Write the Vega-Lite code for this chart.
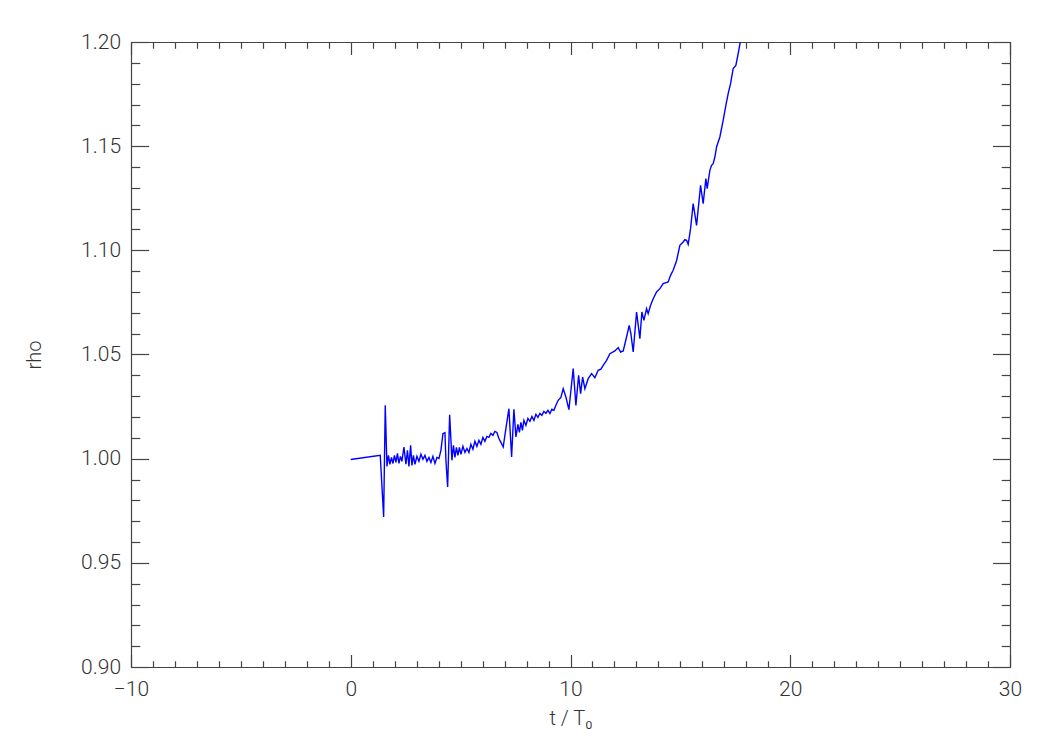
{
  "$schema": "https://vega.github.io/schema/vega-lite/v6.json",
  "width": 879,
  "height": 625,
  "autosize": "none",
  "padding": {"left": 131, "top": 42, "right": 40, "bottom": 83},
  "background": "white",
  "config": {
    "view": {"stroke": null},
    "axis": {
      "grid": false,
      "domainColor": "#444444",
      "domainWidth": 1.2,
      "tickColor": "#444444",
      "tickWidth": 1.2,
      "labelColor": "#333333",
      "titleColor": "#333333",
      "labelFont": "Roboto",
      "titleFont": "Roboto",
      "labelFontSize": 21,
      "titleFontSize": 20,
      "labelFontWeight": 300,
      "titleFontWeight": 300,
      "labelOverlap": false,
      "labelFlush": false
    }
  },
  "data": {
    "values": [
      {"t": 0.0, "rho": 0.9996}, {"t": 1.342, "rho": 1.0016}, {"t": 1.497, "rho": 0.972}, {"t": 1.57, "rho": 1.0256},
      {"t": 1.647, "rho": 0.9963}, {"t": 1.715, "rho": 1.0016}, {"t": 1.783, "rho": 0.9973}, {"t": 1.852, "rho": 1.0006},
      {"t": 1.92, "rho": 0.9977}, {"t": 1.988, "rho": 1.0016}, {"t": 2.056, "rho": 0.9982}, {"t": 2.125, "rho": 1.0025},
      {"t": 2.193, "rho": 0.9977}, {"t": 2.261, "rho": 1.0011}, {"t": 2.329, "rho": 0.9987}, {"t": 2.42, "rho": 1.0056},
      {"t": 2.511, "rho": 0.9973}, {"t": 2.58, "rho": 1.004}, {"t": 2.648, "rho": 0.9963}, {"t": 2.725, "rho": 1.0064},
      {"t": 2.784, "rho": 0.9968}, {"t": 2.853, "rho": 1.0016}, {"t": 2.921, "rho": 0.9973}, {"t": 3.012, "rho": 1.0011},
      {"t": 3.103, "rho": 0.9987}, {"t": 3.194, "rho": 1.0021}, {"t": 3.285, "rho": 0.9997}, {"t": 3.376, "rho": 1.0016},
      {"t": 3.467, "rho": 0.9987}, {"t": 3.558, "rho": 1.0006}, {"t": 3.649, "rho": 0.9982}, {"t": 3.74, "rho": 1.0011},
      {"t": 3.831, "rho": 0.9977}, {"t": 3.922, "rho": 1.0006}, {"t": 4.013, "rho": 1.0001}, {"t": 4.104, "rho": 1.004},
      {"t": 4.195, "rho": 1.012}, {"t": 4.286, "rho": 1.0125}, {"t": 4.331, "rho": 0.9992}, {"t": 4.409, "rho": 0.9864},
      {"t": 4.5, "rho": 1.0211}, {"t": 4.559, "rho": 1.0088}, {"t": 4.604, "rho": 0.9992}, {"t": 4.672, "rho": 1.0064},
      {"t": 4.741, "rho": 1.0006}, {"t": 4.809, "rho": 1.0054}, {"t": 4.877, "rho": 1.0016}, {"t": 4.945, "rho": 1.0054},
      {"t": 5.014, "rho": 1.0021}, {"t": 5.105, "rho": 1.0059}, {"t": 5.196, "rho": 1.003}, {"t": 5.287, "rho": 1.0049},
      {"t": 5.377, "rho": 1.003}, {"t": 5.468, "rho": 1.0069}, {"t": 5.559, "rho": 1.0045}, {"t": 5.65, "rho": 1.0083},
      {"t": 5.741, "rho": 1.0059}, {"t": 5.832, "rho": 1.0088}, {"t": 5.923, "rho": 1.0069}, {"t": 6.014, "rho": 1.0102},
      {"t": 6.105, "rho": 1.0083}, {"t": 6.196, "rho": 1.0107}, {"t": 6.287, "rho": 1.0102}, {"t": 6.378, "rho": 1.0121},
      {"t": 6.469, "rho": 1.0112}, {"t": 6.56, "rho": 1.0131}, {"t": 6.651, "rho": 1.0126}, {"t": 6.742, "rho": 1.0097},
      {"t": 6.833, "rho": 1.0078}, {"t": 6.938, "rho": 1.0056}, {"t": 7.061, "rho": 1.0145}, {"t": 7.197, "rho": 1.024},
      {"t": 7.32, "rho": 1.0008}, {"t": 7.425, "rho": 1.0237}, {"t": 7.516, "rho": 1.0104}, {"t": 7.607, "rho": 1.0165},
      {"t": 7.675, "rho": 1.0126}, {"t": 7.744, "rho": 1.0174}, {"t": 7.812, "rho": 1.0136}, {"t": 7.88, "rho": 1.0184},
      {"t": 7.971, "rho": 1.016}, {"t": 8.062, "rho": 1.0193}, {"t": 8.153, "rho": 1.0179}, {"t": 8.244, "rho": 1.0203},
      {"t": 8.335, "rho": 1.0184}, {"t": 8.426, "rho": 1.0213}, {"t": 8.517, "rho": 1.0198}, {"t": 8.608, "rho": 1.0217},
      {"t": 8.699, "rho": 1.0208}, {"t": 8.79, "rho": 1.0227}, {"t": 8.881, "rho": 1.0217}, {"t": 8.972, "rho": 1.0232},
      {"t": 9.063, "rho": 1.0217}, {"t": 9.154, "rho": 1.0237}, {"t": 9.245, "rho": 1.0232}, {"t": 9.336, "rho": 1.0256},
      {"t": 9.44, "rho": 1.028}, {"t": 9.563, "rho": 1.0294}, {"t": 9.668, "rho": 1.0336}, {"t": 9.791, "rho": 1.0296},
      {"t": 9.927, "rho": 1.0235}, {"t": 10.123, "rho": 1.0432}, {"t": 10.246, "rho": 1.0256}, {"t": 10.369, "rho": 1.04},
      {"t": 10.46, "rho": 1.0312}, {"t": 10.551, "rho": 1.0392}, {"t": 10.655, "rho": 1.0336}, {"t": 10.805, "rho": 1.0384},
      {"t": 10.96, "rho": 1.0408}, {"t": 11.11, "rho": 1.0389}, {"t": 11.26, "rho": 1.0424}, {"t": 11.383, "rho": 1.043},
      {"t": 11.488, "rho": 1.0448}, {"t": 11.642, "rho": 1.0472}, {"t": 11.793, "rho": 1.0504}, {"t": 12.02, "rho": 1.0517},
      {"t": 12.17, "rho": 1.0533}, {"t": 12.279, "rho": 1.0512}, {"t": 12.398, "rho": 1.0517}, {"t": 12.552, "rho": 1.0584},
      {"t": 12.671, "rho": 1.064}, {"t": 12.748, "rho": 1.06}, {"t": 12.853, "rho": 1.0512}, {"t": 13.007, "rho": 1.0704},
      {"t": 13.157, "rho": 1.0576}, {"t": 13.248, "rho": 1.0704}, {"t": 13.339, "rho": 1.0664}, {"t": 13.462, "rho": 1.072},
      {"t": 13.535, "rho": 1.0696}, {"t": 13.644, "rho": 1.0736}, {"t": 13.763, "rho": 1.0768}, {"t": 13.917, "rho": 1.08},
      {"t": 14.067, "rho": 1.0816}, {"t": 14.217, "rho": 1.084}, {"t": 14.445, "rho": 1.0848}, {"t": 14.554, "rho": 1.088},
      {"t": 14.672, "rho": 1.0904}, {"t": 14.827, "rho": 1.095}, {"t": 14.977, "rho": 1.1024}, {"t": 15.127, "rho": 1.104},
      {"t": 15.205, "rho": 1.1051}, {"t": 15.282, "rho": 1.1048}, {"t": 15.355, "rho": 1.1029}, {"t": 15.464, "rho": 1.1104},
      {"t": 15.582, "rho": 1.1224}, {"t": 15.737, "rho": 1.112}, {"t": 15.919, "rho": 1.1312}, {"t": 16.037, "rho": 1.1224},
      {"t": 16.16, "rho": 1.1344}, {"t": 16.219, "rho": 1.1296}, {"t": 16.342, "rho": 1.1384}, {"t": 16.419, "rho": 1.1408},
      {"t": 16.492, "rho": 1.1416}, {"t": 16.57, "rho": 1.1448}, {"t": 16.647, "rho": 1.1496}, {"t": 16.797, "rho": 1.1544},
      {"t": 16.947, "rho": 1.1624}, {"t": 17.07, "rho": 1.1696}, {"t": 17.175, "rho": 1.1752}, {"t": 17.284, "rho": 1.18},
      {"t": 17.402, "rho": 1.1872}, {"t": 17.525, "rho": 1.1888}, {"t": 17.63, "rho": 1.1944}, {"t": 17.739, "rho": 1.2008}
    ]
  },
  "layer": [
    {
      "mark": {"type": "line", "color": "#0000ff", "strokeWidth": 1.4, "clip": true},
      "encoding": {
        "x": {
          "field": "t", "type": "quantitative",
          "scale": {"domain": [-10, 30], "nice": false, "zero": false},
          "axis": {
            "orient": "bottom",
            "values": [-10,-9,-8,-7,-6,-5,-4,-3,-2,-1,0,1,2,3,4,5,6,7,8,9,10,11,12,13,14,15,16,17,18,19,20,21,22,23,24,25,26,27,28,29,30],
            "labelExpr": "datum.value % 10 === 0 ? datum.label : ''",
            "tickSize": {"condition": {"test": "datum.value % 10 === 0", "value": -12.5}, "value": -6.25},
            "labelPadding": 24,
            "title": "t  /  T₀",
            "titlePadding": 3
          }
        },
        "y": {
          "field": "rho", "type": "quantitative",
          "scale": {"domain": [0.9, 1.2], "nice": false, "zero": false},
          "axis": {
            "orient": "left",
            "values": [0.9,0.91,0.92,0.93,0.94,0.95,0.96,0.97,0.98,0.99,1.0,1.01,1.02,1.03,1.04,1.05,1.06,1.07,1.08,1.09,1.1,1.11,1.12,1.13,1.14,1.15,1.16,1.17,1.18,1.19,1.2],
            "format": ".2f",
            "labelExpr": "round(datum.value * 100) % 5 === 0 ? datum.label : ''",
            "tickSize": {"condition": {"test": "round(datum.value * 100) % 5 === 0", "value": -17.6}, "value": -8.8},
            "labelPadding": 28,
            "title": "rho",
            "titlePadding": 36
          }
        }
      }
    },
    {
      "mark": {"type": "line", "opacity": 0},
      "encoding": {
        "x": {
          "field": "t", "type": "quantitative",
          "axis": {
            "orient": "top",
            "values": [-10,-9,-8,-7,-6,-5,-4,-3,-2,-1,0,1,2,3,4,5,6,7,8,9,10,11,12,13,14,15,16,17,18,19,20,21,22,23,24,25,26,27,28,29,30],
            "labels": false,
            "tickSize": {"condition": {"test": "datum.value % 10 === 0", "value": -12.5}, "value": -6.25},
            "title": null
          }
        },
        "y": {
          "field": "rho", "type": "quantitative",
          "axis": {
            "orient": "right",
            "values": [0.9,0.91,0.92,0.93,0.94,0.95,0.96,0.97,0.98,0.99,1.0,1.01,1.02,1.03,1.04,1.05,1.06,1.07,1.08,1.09,1.1,1.11,1.12,1.13,1.14,1.15,1.16,1.17,1.18,1.19,1.2],
            "labels": false,
            "tickSize": {"condition": {"test": "round(datum.value * 100) % 5 === 0", "value": -17.6}, "value": -8.8},
            "title": null
          }
        }
      }
    }
  ],
  "resolve": {"axis": {"x": "independent", "y": "independent"}}
}
